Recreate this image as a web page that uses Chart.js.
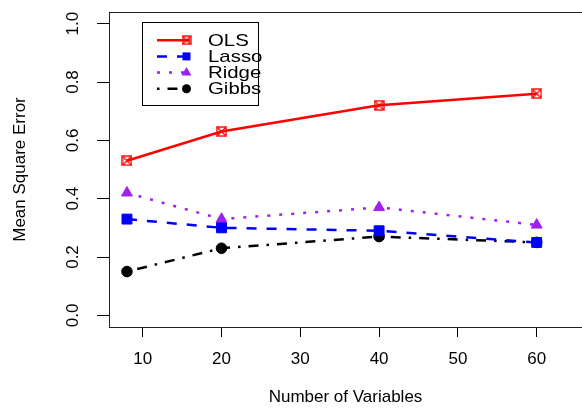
<!DOCTYPE html>
<html>
<head>
<meta charset="utf-8">
<title>Mean Square Error by Number of Variables</title>
<script src="https://cdn.jsdelivr.net/npm/chart.js@4.4.1/dist/chart.umd.min.js"></script>
<style>
  html, body { margin: 0; padding: 0; background: #fff; }
  canvas { display: block; }
</style>
</head>
<body>
<canvas id="mseChart" width="582" height="408"></canvas>
<script>
// x values: number of variables
var numVars = [8, 20, 40, 60];

// mean square error for each method
var olsMse   = [0.53, 0.63, 0.72, 0.76];
var lassoMse = [0.33, 0.30, 0.29, 0.25];
var ridgeMse = [0.42, 0.33, 0.37, 0.31];
var gibbsMse = [0.15, 0.23, 0.27, 0.25];

var xTicks = [10, 20, 30, 40, 50, 60];
var yTicks = [0.0, 0.2, 0.4, 0.6, 0.8, 1.0];
var yTickLabels = ['0.0', '0.2', '0.4', '0.6', '0.8', '1.0'];

var FONT = '"Liberation Sans", Arial, Helvetica, sans-serif';

function toPoints(ys) {
    return numVars.map(function (x, i) { return { x: x, y: ys[i] }; });
}

// square with an X through it (like R pch 7)
function boxCross(color, size) {
    var c = document.createElement('canvas');
    c.width = size;
    c.height = size;
    var g = c.getContext('2d');
    g.strokeStyle = color;
    g.lineWidth = 1.4;
    g.strokeRect(1, 1, size - 2, size - 2);
    g.beginPath();
    g.moveTo(1, 1); g.lineTo(size - 1, size - 1);
    g.moveTo(size - 1, 1); g.lineTo(1, size - 1);
    g.stroke();
    return c;
}

var olsMarker = boxCross('#FF0000', 11);
var olsLegendMarker = boxCross('#FF0000', 10);

// y tick labels are rotated like in R, box round the plot, legend inside
var rStyle = {
    id: 'rStyle',
    afterDraw: function (chart) {
        var ctx = chart.ctx;
        var area = chart.chartArea;
        var yScale = chart.scales.y;
        ctx.save();

        // plot box (right side runs off the picture)
        ctx.strokeStyle = '#222';
        ctx.lineWidth = 1;
        ctx.beginPath();
        ctx.moveTo(area.right + 2, Math.round(area.top) + 0.5);
        ctx.lineTo(Math.round(area.left) + 0.5, Math.round(area.top) + 0.5);
        ctx.lineTo(Math.round(area.left) + 0.5, Math.round(area.bottom) + 0.5);
        ctx.lineTo(area.right + 2, Math.round(area.bottom) + 0.5);
        ctx.stroke();

        // rotated y labels
        ctx.fillStyle = '#000';
        ctx.font = '17px ' + FONT;
        ctx.textAlign = 'center';
        ctx.textBaseline = 'middle';
        yTicks.forEach(function (v, i) {
            var py = yScale.getPixelForValue(v);
            ctx.save();
            ctx.translate(73, py);
            ctx.rotate(-Math.PI / 2);
            ctx.fillText(yTickLabels[i], 0, 0);
            ctx.restore();
        });

        // legend
        ctx.strokeStyle = '#000';
        ctx.lineWidth = 1;
        ctx.setLineDash([]);
        ctx.strokeRect(142.5, 22.5, 116, 83);
        chart.data.datasets.forEach(function (ds, i) {
            var y = 40.2 + i * 16.2;
            ctx.strokeStyle = ds.borderColor;
            ctx.lineWidth = ds.borderWidth;
            ctx.setLineDash(ds.borderDash || []);
            ctx.beginPath();
            ctx.moveTo(157, y);
            ctx.lineTo(190, y);
            ctx.stroke();
            ctx.setLineDash([]);

            var mx = 186.5;
            ctx.fillStyle = ds.borderColor;
            ctx.strokeStyle = ds.borderColor;
            ctx.lineWidth = 1;
            if (ds.pointStyle === 'rect') {
                ctx.fillRect(mx - 4, y - 4, 8, 8);
            } else if (ds.pointStyle === 'triangle') {
                ctx.beginPath();
                ctx.moveTo(mx, y - 5.5);
                ctx.lineTo(mx + 5, y + 3);
                ctx.lineTo(mx - 5, y + 3);
                ctx.closePath();
                ctx.fill();
            } else if (ds.pointStyle === 'circle') {
                ctx.beginPath();
                ctx.arc(mx, y, 4.5, 0, Math.PI * 2);
                ctx.fill();
            } else {
                ctx.drawImage(olsLegendMarker, mx - 5, y - 5);
            }

            ctx.fillStyle = '#000';
            ctx.font = '17px ' + FONT;
            ctx.textAlign = 'left';
            ctx.textBaseline = 'middle';
            ctx.save();
            ctx.translate(208, y);
            ctx.scale(1.2, 1);
            ctx.fillText(ds.label, 0, 1);
            ctx.restore();
        });
        ctx.restore();
    }
};

var ctx = document.getElementById('mseChart').getContext('2d');

var mseChart = new Chart(ctx, {
    type: 'line',
    data: {
        datasets: [{
            label: 'OLS',
            data: toPoints(olsMse),
            borderColor: '#FF0000',
            backgroundColor: '#FF0000',
            borderWidth: 2.5,
            pointStyle: olsMarker,
            pointRadius: 5.5
        }, {
            label: 'Lasso',
            data: toPoints(lassoMse),
            borderColor: '#0000FF',
            backgroundColor: '#0000FF',
            borderWidth: 2.5,
            borderDash: [10, 10],
            pointStyle: 'rect',
            pointRadius: 7,
            pointBorderWidth: 1
        }, {
            label: 'Ridge',
            data: toPoints(ridgeMse),
            borderColor: '#A020F0',
            backgroundColor: '#A020F0',
            borderWidth: 2.5,
            borderDash: [3, 9],
            pointStyle: 'triangle',
            pointRadius: 6.3,
            pointBorderWidth: 1
        }, {
            label: 'Gibbs',
            data: toPoints(gibbsMse),
            borderColor: '#000000',
            backgroundColor: '#000000',
            borderWidth: 2.5,
            borderDash: [2.5, 8, 10, 8],
            pointStyle: 'circle',
            pointRadius: 5.3,
            pointBorderWidth: 1
        }]
    },
    options: {
        responsive: false,
        animation: false,
        devicePixelRatio: 1,
        layout: { autoPadding: false, padding: { top: 12, right: 0, bottom: 0, left: 0 } },
        plugins: {
            legend: { display: false },
            tooltip: { enabled: false }
        },
        scales: {
            x: {
                type: 'linear',
                min: 5.72,
                max: 65.75,
                afterBuildTicks: function (scale) {
                    scale.ticks = xTicks.map(function (v) { return { value: v }; });
                },
                afterFit: function (scale) {
                    scale.height = 81;
                    scale.paddingLeft = 0;
                    scale.paddingRight = 0;
                },
                border: { display: true, color: '#000', width: 1 },
                grid: { drawOnChartArea: false, drawTicks: true, tickLength: 10, color: '#000' },
                ticks: {
                    color: '#000',
                    padding: 12,
                    maxRotation: 0,
                    font: { family: FONT, size: 17 }
                },
                title: {
                    display: true,
                    text: 'Number of Variables',
                    color: '#000',
                    padding: { top: 0, bottom: 0 },
                    font: { family: FONT, size: 17 }
                }
            },
            y: {
                min: -0.04,
                max: 1.04,
                afterBuildTicks: function (scale) {
                    scale.ticks = yTicks.map(function (v) { return { value: v }; });
                },
                afterFit: function (scale) {
                    scale.width = 109;
                    scale.paddingTop = 0;
                    scale.paddingBottom = 0;
                },
                border: { display: true, color: '#000', width: 1 },
                grid: { drawOnChartArea: false, drawTicks: true, tickLength: 12, color: '#000' },
                ticks: { display: false },
                title: {
                    display: true,
                    text: 'Mean Square Error',
                    color: '#000',
                    padding: { top: 10.5, bottom: 0 },
                    font: { family: FONT, size: 17 }
                }
            }
        }
    },
    plugins: [rStyle]
});
</script>
</body>
</html>
